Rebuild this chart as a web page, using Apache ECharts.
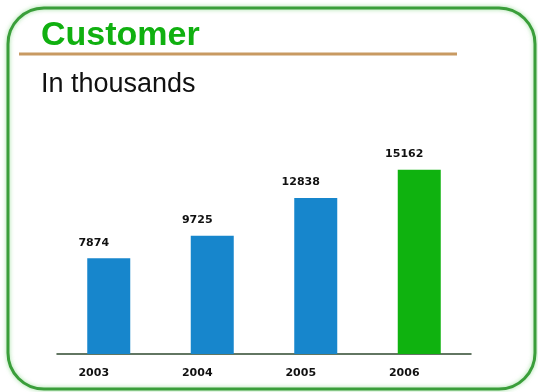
<!DOCTYPE html>
<html>
<head>
<meta charset="utf-8">
<script src="https://cdn.jsdelivr.net/npm/echarts@6/dist/echarts.min.js"></script>
<style>
  html, body { margin: 0; padding: 0; background: #ffffff; }
  #chart { width: 538px; height: 392px; }
</style>
</head>
<body>
<div id="chart"></div>
<script>
// Customer counts per year, in thousands
const years = ['2003', '2004', '2005', '2006'];
const customers = [7874, 9725, 12838, 15162];
const barColors = ['#1786cc', '#1786cc', '#1786cc', '#0fb20f'];

const chart = echarts.init(document.getElementById('chart'), null, { renderer: 'canvas' });

const pixelFont = '"DejaVu Sans", sans-serif';

chart.setOption({
  backgroundColor: '#ffffff',
  animation: false,
  graphic: [
    {
      // rounded green frame
      type: 'rect',
      shape: { x: 8, y: 8, width: 527, height: 381, r: 36 },
      style: { fill: 'none', stroke: '#3a9e3a', lineWidth: 3, shadowColor: 'rgba(90,200,90,0.6)', shadowBlur: 4 },
      z: 1
    },
    {
      type: 'text',
      left: 41, top: 19,
      style: { text: 'Customer', fill: '#10b010', font: 'bold 34px "Liberation Sans", Arial, sans-serif' },
      z: 3
    },
    {
      // rule under the heading
      type: 'line',
      shape: { x1: 19, y1: 54, x2: 457, y2: 54 },
      style: { stroke: '#c89a62', lineWidth: 3 },
      z: 2
    },
    {
      type: 'text',
      left: 41, top: 71,
      style: { text: 'In thousands', fill: '#111111', font: '27px "Liberation Sans", Arial, sans-serif' },
      z: 3
    }
  ],
  grid: { left: 57, right: 67, top: 111, bottom: 38, containLabel: false },
  xAxis: {
    type: 'category',
    data: years,
    axisLine: { show: true, lineStyle: { color: '#2f4a2f', width: 1.5 } },
    axisTick: { show: false },
    axisLabel: {
      color: '#111111',
      fontFamily: pixelFont,
      fontWeight: 'bold',
      fontSize: 11,
      margin: 14,
      padding: [0, 30, 0, 0]
    }
  },
  yAxis: {
    type: 'value',
    min: 0,
    max: 20000,
    show: false,
    splitLine: { show: false }
  },
  series: [{
    type: 'bar',
    barWidth: 43,
    data: customers.map((v, i) => ({ value: v, itemStyle: { color: barColors[i] } })),
    label: {
      show: true,
      position: 'top',
      distance: 10,
      offset: [-15, 0],
      color: '#111111',
      fontFamily: pixelFont,
      fontWeight: 'bold',
      fontSize: 11
    }
  }]
});
</script>
</body>
</html>
